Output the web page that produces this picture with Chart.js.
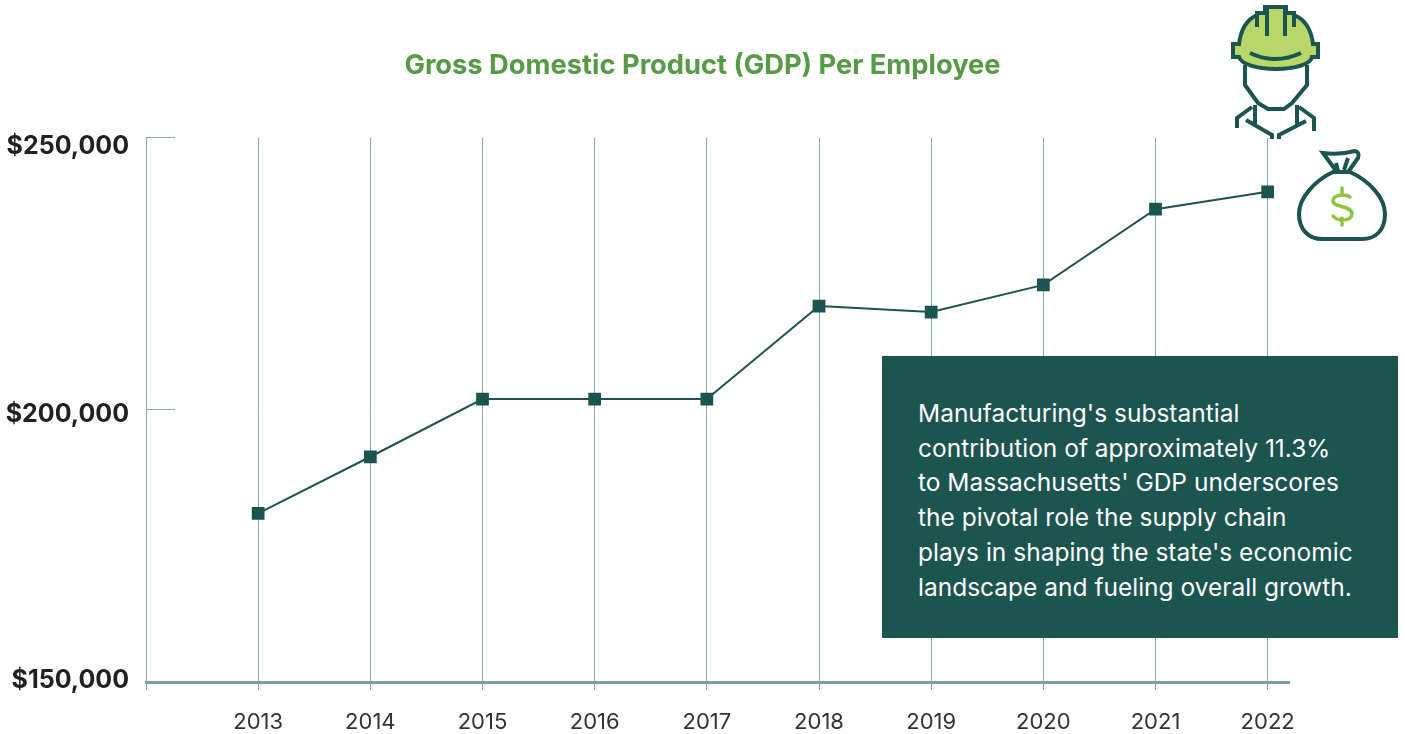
<!DOCTYPE html>
<html>
<head>
<meta charset="utf-8">
<title>Gross Domestic Product (GDP) Per Employee</title>
<script src="https://cdn.jsdelivr.net/npm/chart.js@4"></script>
<style>
    html, body { margin: 0; padding: 0; background: #fff; overflow: hidden; }
    #wrap { position: relative; width: 1405px; height: 734px; }
    #icons { position: absolute; left: 0; top: 0; }
    #note {
        position: absolute; left: 882px; top: 356px; width: 516px; height: 282px;
        box-sizing: border-box; padding: 40px 0 0 36px;
        background: #1c5450; color: #fff;
        font: 24.5px/34.7px Inter, sans-serif; white-space: nowrap;
    }
</style>
</head>
<body>
<div id="wrap">
    <canvas id="gdpChart" width="1405" height="734"></canvas>
    <svg id="icons" width="1405" height="734" viewBox="0 0 1405 734" fill="none" stroke="#1c5450" stroke-width="4" stroke-linejoin="miter">
        <!-- worker -->
        <path d="M1245 65V85L1258 103L1268 109H1284L1292 103L1307 85V65" fill="#fff"/>
        <path d="M1255 105V125M1297 105V125M1252 107L1237 118V128M1299 107L1314 118V131"/>
        <path d="M1246 120L1272 135V139M1306 121L1279 135V139"/>
        <path d="M1239 44C1241 28 1248 19 1257 15V13H1265V7H1286V13H1294V15C1304 19 1311 28 1313 44H1318V57H1312C1311 64 1295 69 1276 69C1257 69 1241 64 1239 57H1233V44Z" fill="#b9d66b"/>
        <path d="M1257 14V27M1267 8V36M1285 8V36M1294 14V27"/>
        <path d="M1250 53Q1275 65 1301 53"/>
        <!-- money bag -->
        <path d="M1333 172C1316 180 1299 197 1299 214C1299 230 1309 239 1322 239H1362C1376 239 1385 230 1385 214C1385 197 1368 180 1350 172Z" fill="#fff"/>
        <path d="M1337 172L1323 153Q1340 155 1355 151Q1360 152 1358 158L1348 172M1336 163L1338 171M1348 158L1344 170"/>
        <path d="M1350 197C1346 194 1333 194 1333 201C1333 208 1352 205 1352 214C1352 221 1338 222 1333 216M1342 188V195M1342 218V225" stroke="#8cc63f" stroke-width="3.5" stroke-linecap="round"/>
    </svg>
    <div id="note">Manufacturing's substantial<br>contribution of approximately 11.3%<br>to Massachusetts' GDP underscores<br>the pivotal role the supply chain<br>plays in shaping the state's economic<br>landscape and fueling overall growth.</div>
</div>

<script>
const chartTitle = "Gross Domestic Product (GDP) Per Employee";
const years = [2013, 2014, 2015, 2016, 2017, 2018, 2019, 2020, 2021, 2022];
const gdpPerEmployee = [181000, 191400, 202000, 202000, 202000, 219100, 218000, 223000, 236900, 240100];
const yTicks = [150000, 200000, 250000];
const yTickLabels = ["$150,000", "$200,000", "$250,000"];

const teal = "#1c5450";
const axisColor = "#8aa9a8";

// y labels sit a little off their ticks in the original, the library can't do that per tick
const yLabelNudge = { 150000: -2, 200000: 5, 250000: 9 };

const yLabelsPlugin = {
    id: "yLabels",
    afterDraw(chart) {
        const ctx = chart.ctx;
        const scale = chart.scales.y;
        ctx.save();
        ctx.font = "bold 25px Inter, sans-serif";
        ctx.fillStyle = "#231f20";
        ctx.textAlign = "right";
        ctx.textBaseline = "middle";
        yTicks.forEach((value, i) => {
            ctx.fillText(yTickLabels[i], 129, scale.getPixelForValue(value) + yLabelNudge[value]);
        });
        ctx.restore();
    }
};

new Chart(document.getElementById("gdpChart").getContext("2d"), {
    type: "line",
    data: {
        datasets: [{
            data: years.map((year, i) => ({ x: year, y: gdpPerEmployee[i] })),
            borderColor: teal,
            borderWidth: 2,
            backgroundColor: teal,
            pointStyle: "rect",
            pointRadius: 7.6,
            pointHoverRadius: 7.6,
            tension: 0
        }]
    },
    options: {
        responsive: false,
        animation: false,
        plugins: {
            legend: { display: false },
            tooltip: { enabled: false },
            title: {
                display: true,
                text: chartTitle,
                color: "#559b45",
                font: { family: "Inter, sans-serif", size: 27.3, weight: "bold", lineHeight: 1.2 },
                padding: { top: 49, bottom: 56.2 }
            }
        },
        scales: {
            x: {
                type: "linear",
                min: 2012,
                max: 2022.19,
                // room on the right goes here and not in layout.padding, so the title stays centred on the page
                afterFit: scale => { scale.height = 52; scale.paddingRight = 116; },
                grid: { color: axisColor, lineWidth: 1, tickLength: 8 },
                border: { color: "#7f9d9c", width: 3 },
                ticks: {
                    stepSize: 1,
                    includeBounds: false,
                    maxRotation: 0,
                    padding: 19,
                    color: "#333333",
                    font: { family: "Inter, sans-serif", size: 22 },
                    callback: value => years.includes(value) ? String(value) : ""
                }
            },
            y: {
                min: 150000,
                max: 250000,
                afterFit: scale => { scale.width = 146; },
                afterBuildTicks: scale => { scale.ticks = yTicks.map(value => ({ value })); },
                grid: { drawOnChartArea: false, color: axisColor, tickLength: -29 },
                border: { color: axisColor, width: 1 },
                ticks: { display: false }
            }
        }
    },
    plugins: [yLabelsPlugin]
});
</script>
</body>
</html>
